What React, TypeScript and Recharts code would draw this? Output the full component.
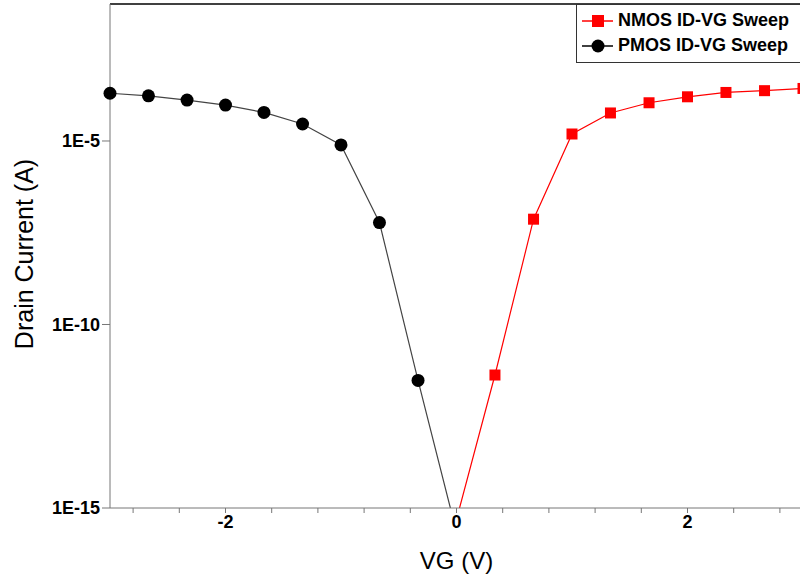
import React from 'react';
import { LineChart, Line, XAxis, YAxis, ReferenceLine } from 'recharts';

const vg = [-3, -2.667, -2.333, -2, -1.667, -1.333, -1, -0.667, -0.333, 0, 0.333, 0.667, 1, 1.333, 1.667, 2, 2.333, 2.667, 3];

// drain current, null where the sweep has no point
const pmosId = [2.0e-4, 1.7e-4, 1.3e-4, 9.5e-5, 6.0e-5, 2.9e-5, 7.8e-6, 6.0e-8, 3.0e-12, 2.2e-16, null, null, null, null, null, null, null, null, null];
const nmosId = [null, null, null, null, null, null, null, null, null, 4.9e-16, 4.2e-12, 7.4e-8, 1.55e-5, 5.8e-5, 1.1e-4, 1.6e-4, 2.1e-4, 2.35e-4, 2.7e-4];

const xTicks = [-2.8, -2.4, -2, -1.6, -1.2, -0.8, -0.4, 0, 0.4, 0.8, 1.2, 1.6, 2, 2.4, 2.8];
const yTicks = [1e-15, 1e-10, 1e-5];
const yMin = 1e-15;
const yMax = 0.054;

const data = vg.map((v, i) => ({ vg: v, nmos: nmosId[i], pmos: pmosId[i] }));

const FONT = '"Liberation Sans", Arial, sans-serif';

const SquareDot = (props: any) => {
  const { cx, cy, index } = props;
  if (cx == null || cy == null) return <g key={index} />;
  return <rect key={index} x={cx - 5.5} y={cy - 5.5} width={11} height={11} fill="#ff0000" />;
};

const series = [
  { name: 'NMOS ID-VG Sweep', color: '#ff0000', shape: 'square' },
  { name: 'PMOS ID-VG Sweep', color: '#000000', shape: 'circle' },
];

// drawn over the plot, like the original's boxed legend
const LegendBox = () => (
  <div
    style={{
      position: 'absolute',
      left: 576,
      top: 4,
      border: '1px solid #333',
      background: '#fff',
      width: 240,
      height: 59,
      boxSizing: 'border-box',
      paddingTop: 3,
      fontFamily: FONT,
      fontWeight: 'bold',
      fontSize: 18,
    }}
  >
    {series.map((s) => (
      <div key={s.name} style={{ display: 'flex', alignItems: 'center', height: 25 }}>
        <svg width={42} height={20} style={{ marginLeft: 5 }}>
          <line x1={0} y1={10} x2={31} y2={10} stroke={s.color} strokeWidth={1.5} />
          {s.shape === 'square' ? (
            <rect x={10} y={4} width={12} height={12} fill={s.color} />
          ) : (
            <circle cx={16} cy={10} r={6.5} fill={s.color} />
          )}
        </svg>
        <span style={{ marginLeft: -6, color: '#000' }}>{s.name}</span>
      </div>
    ))}
  </div>
);

const xFmt = (v: number) => (v === -2 || v === 0 || v === 2 ? String(v) : '');
const yFmt = (v: number) => `1E${Math.round(Math.log10(v))}`;

export default function App() {
  return (
    <div style={{ position: 'absolute', left: 0, top: 0, width: 800, height: 578, overflow: 'hidden', background: '#fff' }}>
      <LineChart width={810} height={578} data={data} margin={{ top: 4, right: 7, left: 0, bottom: 0 }}>
        <XAxis
          dataKey="vg"
          type="number"
          domain={[-3, 3]}
          ticks={xTicks}
          tickFormatter={xFmt}
          interval={0}
          height={70}
          stroke="#777"
          tickSize={5}
          tick={{ fill: '#000', fontSize: 18, fontWeight: 'bold', fontFamily: FONT }}
          label={(p: any) => {
            const vb = p.viewBox || {};
            return (
              <text x={vb.x + vb.width / 2} y={vb.y + 61} textAnchor="middle" fontSize={24} fontFamily={FONT} fill="#000">
                VG (V)
              </text>
            );
          }}
        />
        <YAxis
          scale="log"
          type="number"
          domain={[yMin, yMax]}
          allowDataOverflow
          ticks={yTicks}
          tickFormatter={yFmt}
          interval={0}
          width={110}
          stroke="#777"
          tickSize={8}
          tick={{ fill: '#000', fontSize: 18, fontWeight: 'bold', fontFamily: FONT }}
          label={(p: any) => {
            const vb = p.viewBox || {};
            const cx = vb.x + 33;
            const cy = vb.y + vb.height / 2 - 2;
            return (
              <text x={cx} y={cy} transform={`rotate(-90 ${cx} ${cy})`} textAnchor="middle" fontSize={25} fontFamily={FONT} fill="#000">
                Drain Current (A)
              </text>
            );
          }}
        />
        {/* top frame edge */}
        <ReferenceLine y={yMax} stroke="#000" strokeWidth={1.5} />
        <Line
          dataKey="pmos"
          name="PMOS ID-VG Sweep"
          stroke="#444"
          strokeWidth={1.2}
          dot={{ r: 6.5, fill: '#000', stroke: 'none' }}
          connectNulls={false}
          isAnimationActive={false}
        />
        <Line
          dataKey="nmos"
          name="NMOS ID-VG Sweep"
          stroke="#ff0000"
          strokeWidth={1.2}
          dot={SquareDot}
          connectNulls={false}
          isAnimationActive={false}
        />
      </LineChart>
      <LegendBox />
    </div>
  );
}
